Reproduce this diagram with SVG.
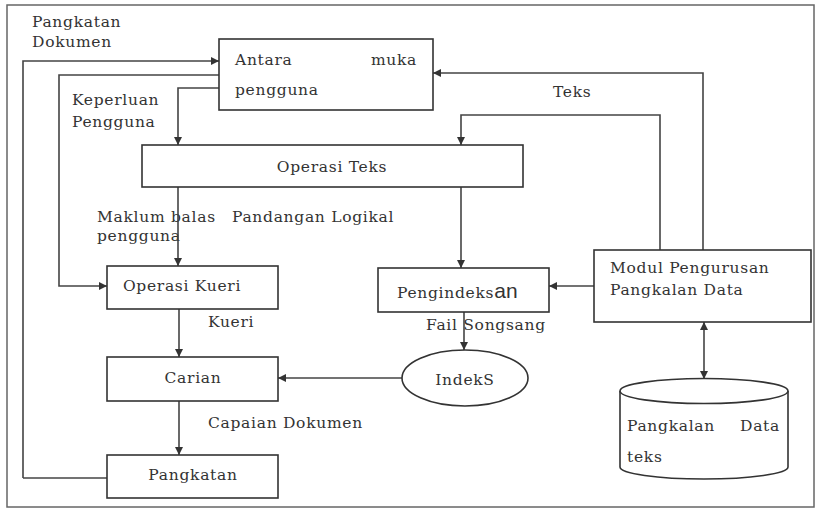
<svg xmlns="http://www.w3.org/2000/svg" width="817" height="512" viewBox="0 0 817 512">
<style>
.box{fill:#fff;stroke:#333;stroke-width:1.6}
.ln{fill:none;stroke:#444;stroke-width:1.6}
text{font-family:"DejaVu Serif","Liberation Serif",serif;font-size:15.5px;letter-spacing:0.7px;fill:#333}
.big{font-family:"Liberation Sans",Arial,sans-serif;font-size:21px;letter-spacing:0}
</style>
<defs>
<marker id="ah" viewBox="0 0 10 10" refX="10" refY="5" markerWidth="8" markerHeight="8" markerUnits="userSpaceOnUse" orient="auto-start-reverse">
<path d="M0,0 L10,5 L0,10 z" fill="#333"/>
</marker>
</defs>
<rect x="0" y="0" width="817" height="512" fill="#fff"/>
<rect x="7" y="5" width="807" height="502" fill="none" stroke="#666" stroke-width="1.5"/>
<g id="labels">
<text x="32" y="27">Pangkatan</text>
<text x="32" y="47">Dokumen</text>
<text x="72" y="105">Keperluan</text>
<text x="72" y="127">Pengguna</text>
<text x="97" y="222">Maklum balas</text>
<text x="97" y="241">pengguna</text>
<text x="232" y="222">Pandangan Logikal</text>
<text x="553" y="97">Teks</text>
<text x="208" y="327">Kueri</text>
<text x="208" y="428">Capaian Dokumen</text>
<text x="426" y="330">Fail Songsang</text>
</g>
<g id="connectors">
<polyline class="ln" points="23,478 23,61 219,61" marker-end="url(#ah)"/>
<line class="ln" x1="107" y1="478" x2="23" y2="478"/>
<polyline class="ln" points="219,75 59,75 59,286 107,286" marker-end="url(#ah)"/>
<polyline class="ln" points="219,88 178,88 178,145" marker-end="url(#ah)"/>
<line class="ln" x1="178" y1="187" x2="178" y2="266" marker-end="url(#ah)"/>
<line class="ln" x1="179" y1="309" x2="179" y2="357" marker-end="url(#ah)"/>
<line class="ln" x1="179" y1="401" x2="179" y2="455" marker-end="url(#ah)"/>
<polyline class="ln" points="703,250 703,73 433,73" marker-end="url(#ah)"/>
<polyline class="ln" points="660,250 660,115 461,115 461,145" marker-end="url(#ah)"/>
<line class="ln" x1="461" y1="187" x2="461" y2="268" marker-end="url(#ah)"/>
<line class="ln" x1="594" y1="286" x2="549" y2="286" marker-end="url(#ah)"/>
<line class="ln" x1="464" y1="312" x2="464" y2="350" marker-end="url(#ah)"/>
<line class="ln" x1="402" y1="378" x2="278" y2="378" marker-end="url(#ah)"/>
<line class="ln" x1="704" y1="322" x2="704" y2="379" marker-start="url(#ah)" marker-end="url(#ah)"/>
</g>
<g id="antara-muka">
<rect class="box" x="219" y="39" width="214" height="71"/>
<text x="235" y="65">Antara</text>
<text x="417" y="65" text-anchor="end">muka</text>
<text x="235" y="95">pengguna</text>
</g>
<g id="operasi-teks">
<rect class="box" x="142" y="145" width="381" height="42"/>
<text x="332" y="172" text-anchor="middle">Operasi Teks</text>
</g>
<g id="operasi-kueri">
<rect class="box" x="107" y="266" width="171" height="43"/>
<text x="182" y="291" text-anchor="middle">Operasi Kueri</text>
</g>
<g id="carian">
<rect class="box" x="107" y="357" width="171" height="44"/>
<text x="193" y="383" text-anchor="middle">Carian</text>
</g>
<g id="pangkatan">
<rect class="box" x="107" y="455" width="171" height="43"/>
<text x="193" y="480" text-anchor="middle">Pangkatan</text>
</g>
<g id="pengindeksan">
<rect class="box" x="378" y="268" width="171" height="44"/>
<text x="397" y="298">Pengindeks<tspan class="big">an</tspan></text>
</g>
<g id="indeks">
<ellipse class="box" cx="465" cy="378" rx="63" ry="28"/>
<text x="465" y="385" text-anchor="middle">IndekS</text>
</g>
<g id="modul">
<rect class="box" x="594" y="250" width="217" height="72"/>
<text x="610" y="273">Modul Pengurusan</text>
<text x="610" y="295">Pangkalan Data</text>
</g>
<g id="pangkalan-data">
<path class="box" d="M620,391 L620,467 A84,12 0 0 0 788,467 L788,391"/>
<ellipse class="box" cx="704" cy="391" rx="84" ry="12.5"/>
<text x="627" y="431">Pangkalan</text>
<text x="780" y="431" text-anchor="end">Data</text>
<text x="627" y="462">teks</text>
</g>
</svg>
